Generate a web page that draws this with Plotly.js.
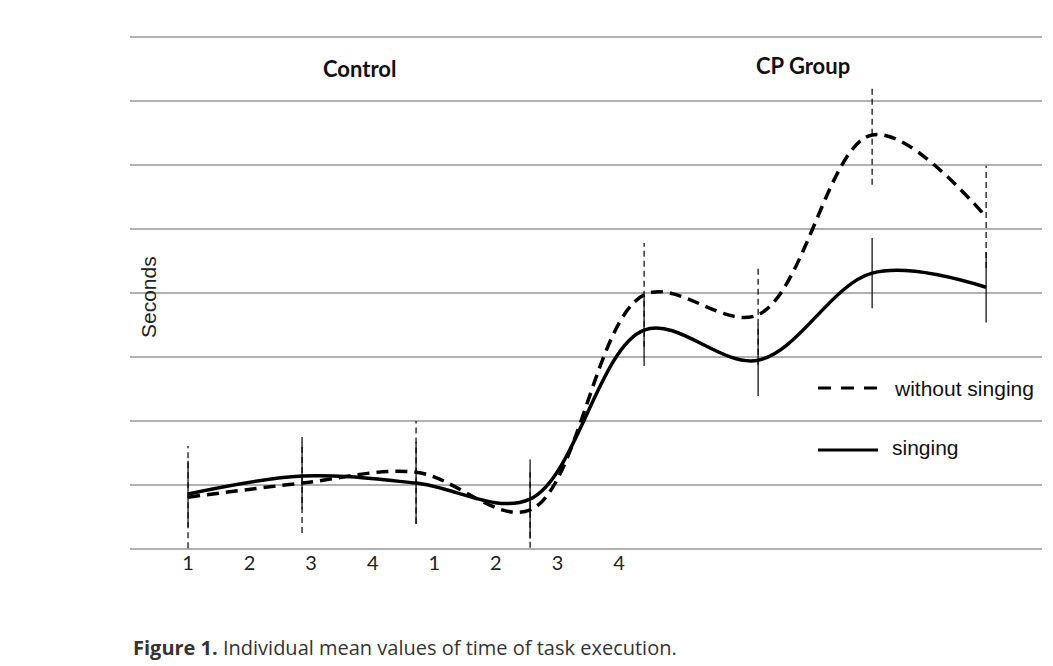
<!DOCTYPE html>
<html>
<head>
<meta charset="utf-8">
<script src="https://cdn.plot.ly/plotly-3.0.1.min.js"></script>
<style>
  html, body { margin: 0; padding: 0; background: #fff; }
  #chart { width: 1053px; height: 666px; }
</style>
</head>
<body>
<div id="chart"></div>
<script>
// ---- data ----
const tickLabels = ['1', '2', '3', '4', '1', '2', '3', '4'];
const measurePoints = [1, 2, 3, 4, 5, 6, 7, 8];
const singing = [0.86, 1.14, 1.03, 0.78, 3.42, 2.95, 4.31, 4.09];
const withoutSinging = [0.81, 1.03, 1.20, 0.61, 3.97, 3.66, 6.47, 5.19];
const singingErr = [0.52, 0.52, 0.64, 0.62, 0.56, 0.56, 0.55, 0.55];
const withoutErr = [0.80, 0.78, 0.80, 0.59, 0.81, 0.78, 0.78, 0.80];
const seriesNames = ['without singing', 'singing'];
const groupTitles = ['Control', 'CP Group'];

// ---- build error bar segments ----
function errSegments(xs, ys, errs) {
  const X = [], Y = [];
  xs.forEach((x, i) => {
    X.push(x, x, null);
    Y.push(ys[i] - errs[i], ys[i] + errs[i], null);
  });
  return { x: X, y: Y };
}
const eWithout = errSegments(measurePoints, withoutSinging, withoutErr);
const eSinging = errSegments(measurePoints, singing, singingErr);

const traces = [
  { x: eWithout.x, y: eWithout.y, mode: 'lines', showlegend: false, hoverinfo: 'skip',
    line: { color: '#000', width: 1.2, dash: '6px,4px' } },
  { x: eSinging.x, y: eSinging.y, mode: 'lines', showlegend: false, hoverinfo: 'skip',
    line: { color: '#000', width: 1.2 } },
  { x: measurePoints, y: withoutSinging, name: seriesNames[0], mode: 'lines', showlegend: false,
    line: { color: '#000', width: 3.5, shape: 'spline', smoothing: 1, dash: '12px,7px' } },
  { x: measurePoints, y: singing, name: seriesNames[1], mode: 'lines', showlegend: false,
    line: { color: '#000', width: 3.5, shape: 'spline', smoothing: 1 } }
];

const tickStep = 0.54;
const tickVals = tickLabels.map((_, k) => measurePoints[0] + k * tickStep);

const W = 1053, H = 666;
const padPx = 4;
const plotL = 130, plotR = 1042, plotT = 37 - padPx, plotB = 549 + padPx;
const pad = padPx / 64;
const px2x = p => (p - plotL) / (plotR - plotL);
const px2y = p => (plotB - p) / (plotB - plotT);

const layout = {
  width: W, height: H,
  margin: { l: plotL, r: W - plotR, t: plotT, b: H - plotB, pad: 0 },
  paper_bgcolor: '#fff', plot_bgcolor: '#fff',
  showlegend: false,
  xaxis: {
    range: [0.491, 8.49], showgrid: false, zeroline: false, showline: false,
    tickmode: 'array', tickvals: tickVals, ticktext: tickLabels, ticks: '', ticklabelstandoff: -4,
    tickfont: { family: 'Lato, sans-serif', size: 20, color: '#222' }
  },
  yaxis: {
    range: [-pad, 8 + pad], dtick: 1, tick0: 0, showgrid: true, gridcolor: '#b0b0b0', gridwidth: 1.3,
    zeroline: false, showline: false, showticklabels: false, ticks: ''
  },
  shapes: [
    { type: 'rect', layer: 'between', xref: 'paper', yref: 'y',
      x0: 0, x1: px2x(184), y0: 3.85, y1: 4.15, fillcolor: '#fff', line: { width: 0 } },
    { type: 'line', xref: 'paper', yref: 'paper', x0: px2x(818), x1: px2x(878),
      y0: px2y(388), y1: px2y(388), line: { color: '#000', width: 3, dash: '13px,10px' } },
    { type: 'line', xref: 'paper', yref: 'paper', x0: px2x(818), x1: px2x(878),
      y0: px2y(450), y1: px2y(450), line: { color: '#000', width: 3 } }
  ],
  annotations: [
    { xref: 'paper', yref: 'paper', x: px2x(359), y: px2y(68), xanchor: 'center', yanchor: 'middle',
      text: '<b>' + groupTitles[0] + '</b>',
      showarrow: false, font: { family: 'Lato, sans-serif', size: 22, color: '#111' } },
    { xref: 'paper', yref: 'paper', x: px2x(803), y: px2y(65), xanchor: 'center', yanchor: 'middle',
      text: '<b>' + groupTitles[1] + '</b>',
      showarrow: false, font: { family: 'Lato, sans-serif', size: 22, color: '#111' } },
    { xref: 'paper', yref: 'paper', x: px2x(148), y: px2y(297), xanchor: 'center', yanchor: 'middle',
      text: 'Seconds', textangle: -90,
      showarrow: false, font: { family: 'Liberation Sans, Arial, sans-serif', size: 21, color: '#222' } },
    { xref: 'paper', yref: 'paper', x: px2x(892), y: px2y(388), xanchor: 'left', yanchor: 'middle',
      text: seriesNames[0],
      showarrow: false, font: { family: 'Liberation Sans, Arial, sans-serif', size: 21, color: '#111' } },
    { xref: 'paper', yref: 'paper', x: px2x(890), y: px2y(447), xanchor: 'left', yanchor: 'middle',
      text: seriesNames[1],
      showarrow: false, font: { family: 'Liberation Sans, Arial, sans-serif', size: 21, color: '#111' } },
    { xref: 'paper', yref: 'paper', x: px2x(131), y: px2y(647), xanchor: 'left', yanchor: 'middle',
      text: '<b>Figure 1.</b> Individual mean values of time of task execution.',
      showarrow: false, font: { family: 'Open Sans, sans-serif', size: 20, color: '#333' } }
  ]
};

Plotly.newPlot('chart', traces, layout, { displayModeBar: false, staticPlot: true });
</script>
</body>
</html>
